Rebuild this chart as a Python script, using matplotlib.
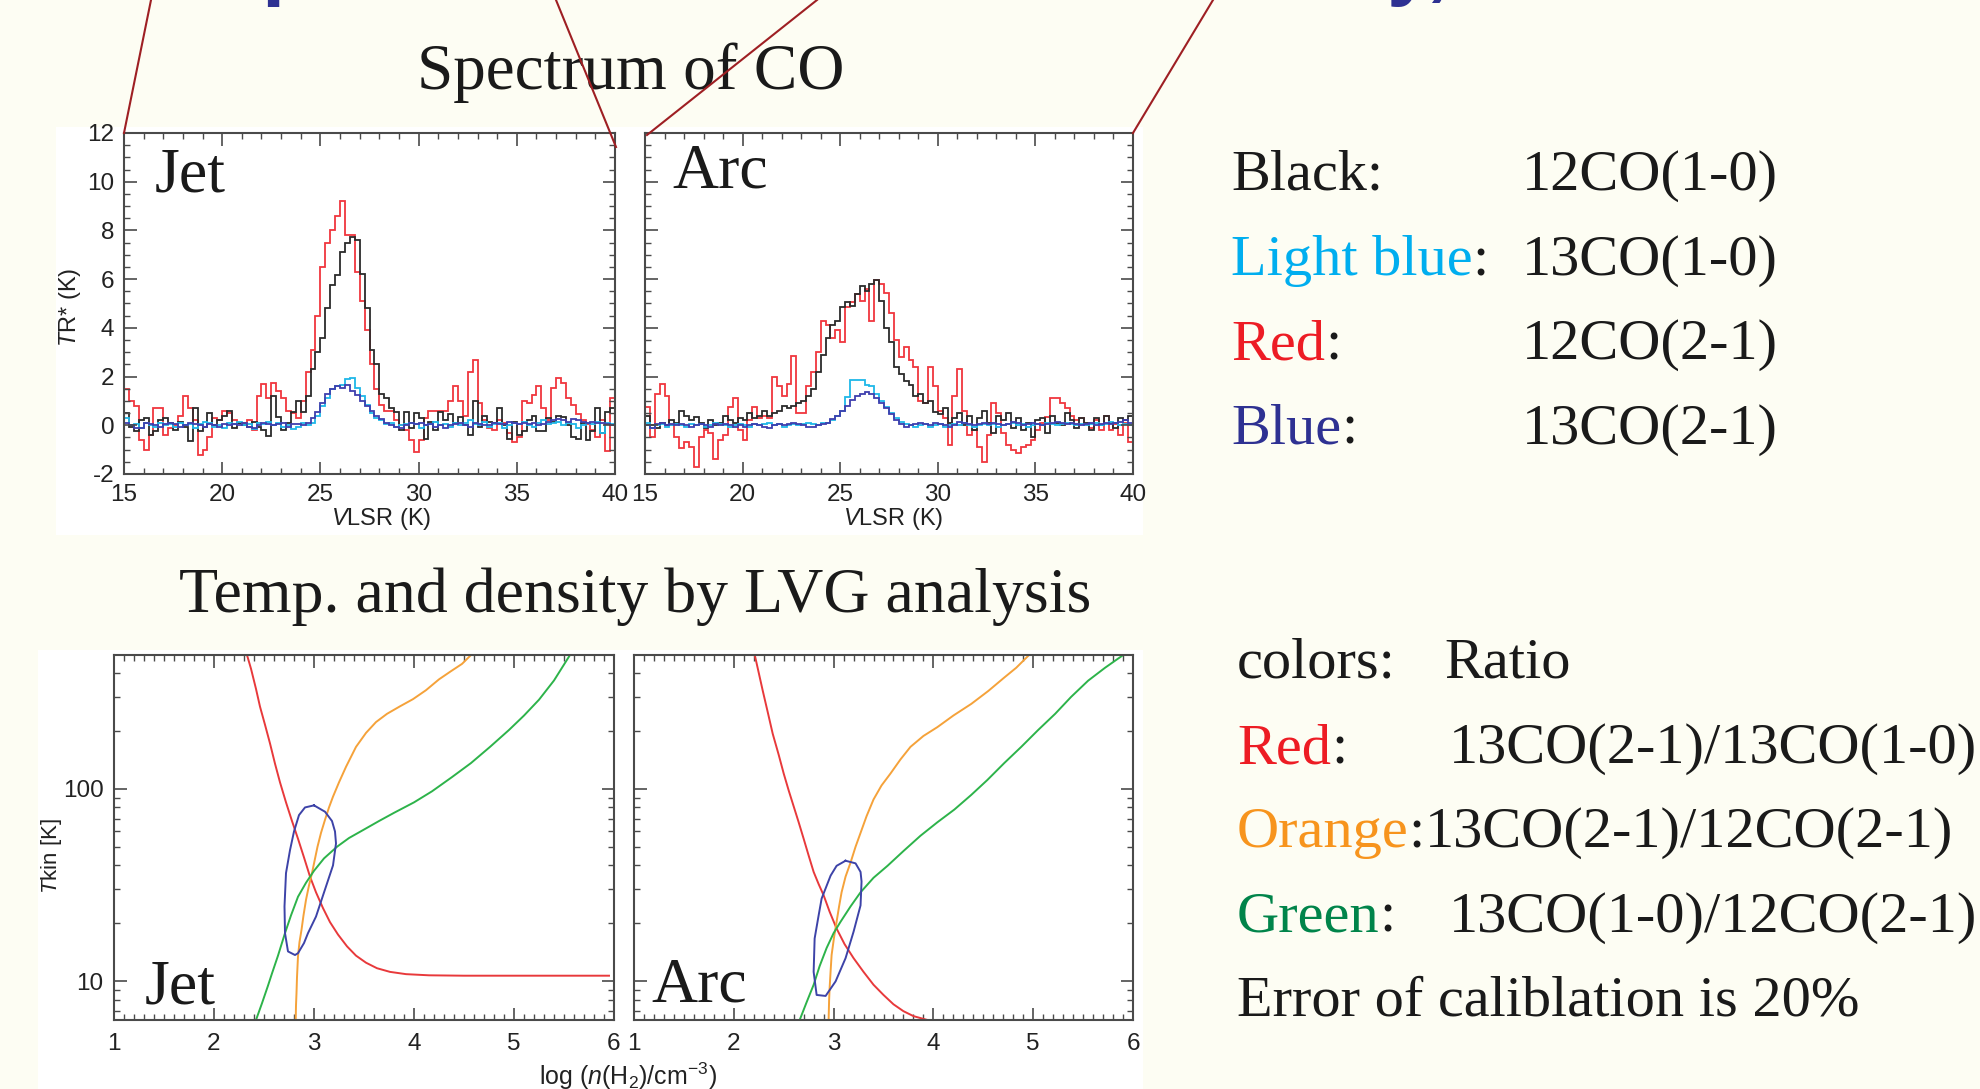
import numpy as np
import matplotlib
matplotlib.use('Agg')
import matplotlib.pyplot as plt
from matplotlib.patches import Rectangle
from matplotlib.lines import Line2D
from matplotlib.ticker import MultipleLocator, FixedLocator, LogLocator, NullFormatter, FuncFormatter

plt.rcParams['font.family'] = 'Liberation Sans'
plt.rcParams['axes.unicode_minus'] = False
plt.rcParams['mathtext.fontset'] = 'custom'
plt.rcParams['mathtext.rm'] = 'Liberation Sans'
plt.rcParams['mathtext.it'] = 'Liberation Sans:italic'
plt.rcParams['mathtext.bf'] = 'Liberation Sans:bold'

W, H = 1980, 1089
BG = '#fdfdf3'
AXC = '#4a4a4a'
TXT = '#1a1a1a'

# ---- spectra: 0.25 km/s channels from 15 to 40 km/s ----
vel_edges = np.linspace(15, 40, 101)

jet_12co21 = [1.5, 1.0, 0.8, -0.6, -1.0, -0.4, 0.7, 0.7, -0.4, -0.1,
              0.0, 0.4, 1.2, 0.7, 0.2, -1.2, -1.0, -0.5, 0.3, 0.2,
              0.6, 0.5, 0.2, 0.1, 0.1, 0.2, -0.2, 1.2, 1.7, 1.1,
              1.75, 1.4, 1.1, 0.6, 0.5, 0.3, 1.0, 2.2, 3.1, 4.5,
              6.5, 7.5, 8.0, 8.6, 9.2, 7.8, 7.8, 6.3, 5.1, 3.9,
              2.5, 1.5, 0.85, 0.6, 0.6, 0.2, 0.0, -0.2, -0.6, -1.1,
              -0.6, 0.3, 0.6, 0.6, 0.6, 0.6, 1.0, 1.6, 1.0, 0.4,
              2.2, 2.7, 0.9, 0.2, -0.1, -0.2, 0.2, 0.1, -0.3, -0.7,
              -0.5, 1.0, 0.9, 1.25, 1.6, 0.7, 0.2, 1.55, 1.95, 1.75,
              1.1, 0.85, 0.45, 0.2, 0.05, -0.2, -0.5, 0.2, -1.05, 1.1]
jet_12co10 = [0.5, -0.05, -0.25, 0.2, 0.3, -0.4, -0.25, 0.2, 0.3, 0.1,
              -0.2, 0.15, -0.05, -0.65, 0.7, -0.25, -0.05, 0.5, 0.0, 0.2,
              0.4, 0.6, -0.1, 0.1, 0.0, -0.05, 0.15, -0.05, -0.2, -0.45,
              1.2, 0.35, -0.2, 0.1, 0.55, 1.0, 0.55, 1.2, 2.3, 3.0,
              3.6, 4.8, 5.75, 6.15, 7.1, 7.5, 7.75, 7.6, 6.2, 4.8,
              3.1, 2.5, 1.3, 1.1, 0.7, 0.55, -0.2, 0.55, -0.1, 0.5,
              0.3, -0.55, 0.15, -0.2, 0.55, 0.2, 0.45, 0.1, 0.35, 0.0,
              -0.4, 1.0, -0.05, 0.4, 0.15, 0.1, 0.7, 0.0, -0.55, 0.15,
              -0.4, -0.25, 0.2, 0.4, -0.25, -0.25, 0.3, 0.15, 0.4, 0.35,
              0.0, -0.5, -0.55, 0.1, -0.6, -0.25, 0.7, -0.3, 0.55, 0.7]
jet_13co10 = [0.3, 0.0, 0.05, -0.1, 0.1, 0.0, -0.05, 0.1, 0.0, 0.05,
              -0.05, 0.1, 0.0, 0.05, -0.1, 0.05, 0.15, 0.1, -0.05, 0.0,
              -0.1, 0.1, 0.05, 0.15, 0.0, 0.05, -0.15, 0.1, 0.05, 0.15,
              0.0, 0.1, -0.05, 0.0, -0.15, -0.05, 0.1, 0.0, 0.1, 0.4,
              0.8, 1.1, 1.5, 1.6, 1.65, 1.9, 1.95, 1.55, 1.2, 0.85,
              0.5, 0.3, 0.2, 0.05, 0.1, -0.05, 0.0, 0.05, 0.1, 0.05,
              -0.1, 0.0, 0.05, 0.15, 0.0, 0.05, -0.05, 0.1, 0.0, 0.1,
              0.2, 0.05, 0.0, 0.15, -0.05, 0.05, 0.1, -0.1, 0.0, 0.1,
              0.05, 0.15, 0.0, -0.05, 0.1, 0.2, 0.05, 0.1, 0.15, 0.0,
              0.1, 0.05, -0.1, 0.0, 0.1, 0.05, 0.15, -0.3, 0.1, 0.05]
jet_13co21 = [0.1, 0.0, -0.1, -0.1, 0.1, 0.05, 0.0, -0.05, 0.05, 0.1,
              0.05, -0.05, 0.0, 0.1, 0.05, 0.0, -0.05, 0.05, 0.0, -0.05,
              0.05, 0.0, 0.05, 0.0, 0.1, -0.05, -0.1, 0.0, 0.1, 0.05,
              0.0, 0.05, 0.1, -0.05, 0.05, 0.05, 0.0, 0.1, 0.3, 0.55,
              0.9, 1.3, 1.5, 1.6, 1.55, 1.65, 1.4, 1.25, 1.0, 0.8,
              0.6, 0.4, 0.25, 0.1, 0.0, -0.05, -0.1, 0.0, 0.1, 0.05,
              0.1, 0.0, 0.05, -0.05, 0.0, -0.1, 0.0, 0.05, 0.1, 0.0,
              -0.05, 0.1, 0.05, 0.0, 0.0, 0.1, 0.05, 0.05, 0.15, 0.1,
              0.05, 0.1, 0.05, 0.1, 0.0, 0.05, 0.15, 0.2, 0.25, 0.2,
              0.15, 0.25, 0.2, 0.15, 0.1, 0.15, 0.1, 0.1, 0.05, 0.0]

arc_12co21 = [0.77, -0.47, 1.3, 1.7, 1.2, 0.0, -0.5, -0.95, -0.67, -0.9,
              -1.7, -0.5, -0.2, -0.3, -1.4, -0.6, -0.4, 0.77, 1.1, -0.2,
              -0.6, 0.2, 0.77, 0.3, 0.4, 0.3, 2.0, 1.6, 1.2, 1.7,
              2.85, 0.5, 0.5, 1.6, 2.2, 3.0, 4.3, 4.1, 3.6, 3.9,
              3.4, 4.85, 5.05, 5.4, 5.1, 5.6, 4.3, 5.95, 5.8, 5.45,
              4.6, 3.5, 2.8, 3.2, 2.7, 2.4, 1.0, 0.9, 2.4, 1.6,
              0.6, 0.3, -0.8, 1.2, 2.3, 0.6, -0.4, -0.2, -0.9, -1.5,
              -0.4, 0.9, 0.5, -0.3, -0.8, -1.0, -1.15, -0.9, -0.8, -0.6,
              -0.2, 0.1, 0.35, 1.1, 1.1, 0.9, 0.7, 0.4, 0.2, 0.3,
              0.0, -0.1, 0.2, -0.2, 0.4, -0.2, 0.05, -0.4, 0.1, -0.7]
arc_12co10 = [0.4, 0.0, -0.1, 0.1, 0.0, 0.2, 0.1, 0.6, 0.4, 0.2,
              0.35, 0.1, -0.1, 0.2, 0.0, 0.1, 0.4, 0.2, 0.1, 0.3,
              0.2, 0.5, 0.3, 0.4, 0.6, 0.4, 0.5, 0.6, 0.8, 0.7,
              0.8, 0.9, 1.0, 1.2, 1.5, 2.2, 2.9, 3.6, 4.1, 4.3,
              4.85, 5.05, 4.9, 5.4, 5.7, 5.5, 5.8, 5.95, 5.1, 4.0,
              3.4, 2.4, 2.1, 1.8, 1.65, 1.2, 1.3, 0.9, 1.0, 0.55,
              0.45, 0.7, 0.1, 0.3, 0.5, 0.0, 0.4, -0.2, 0.3, 0.6,
              0.1, -0.3, 0.4, 0.2, 0.5, -0.1, 0.3, -0.2, 0.1, -0.5,
              0.2, 0.3, -0.3, 0.4, 0.1, 0.0, 0.5, 0.2, -0.1, 0.3,
              0.1, -0.2, 0.3, 0.0, 0.4, 0.1, -0.1, 0.3, 0.2, 0.4]
arc_13co10 = [0.1, -0.1, 0.0, 0.05, -0.05, 0.0, 0.05, 0.0, -0.05, 0.05,
              0.0, 0.05, -0.05, 0.0, 0.1, 0.05, 0.0, -0.05, 0.0, 0.05,
              0.0, -0.05, 0.05, 0.0, 0.05, 0.1, 0.0, 0.05, -0.05, 0.0,
              0.05, 0.0, 0.05, 0.1, 0.05, 0.0, 0.1, 0.1, 0.2, 0.4,
              0.6, 1.15, 1.85, 1.85, 1.85, 1.65, 1.6, 1.3, 1.0, 0.75,
              0.5, 0.3, 0.15, 0.05, 0.0, -0.05, 0.0, 0.05, -0.05, 0.0,
              0.05, -0.05, 0.0, 0.05, 0.0, 0.1, 0.0, -0.05, 0.0, 0.05,
              0.0, 0.05, -0.05, 0.0, 0.05, 0.1, 0.0, 0.05, -0.05, 0.0,
              0.05, 0.0, 0.1, 0.05, 0.0, 0.05, 0.1, 0.05, 0.0, 0.05,
              0.0, 0.05, 0.1, 0.0, 0.05, 0.15, 0.1, 0.0, 0.05, 0.0]
arc_13co21 = [0.0, -0.1, 0.05, 0.1, 0.0, 0.05, 0.0, 0.05, 0.0, -0.05,
              0.0, 0.05, 0.0, -0.05, 0.05, 0.0, 0.05, 0.0, -0.05, 0.0,
              -0.05, 0.0, 0.05, 0.0, -0.05, -0.1, 0.0, 0.05, 0.0, 0.05,
              0.1, 0.05, 0.0, -0.05, -0.05, 0.0, 0.05, 0.1, 0.25, 0.4,
              0.6, 0.8, 1.05, 1.2, 1.3, 1.36, 1.3, 1.1, 0.9, 0.7,
              0.45, 0.2, 0.05, -0.05, 0.0, 0.05, 0.1, 0.05, 0.0, 0.1,
              0.05, 0.0, -0.05, 0.0, 0.15, 0.1, 0.05, 0.0, 0.05, 0.1,
              0.05, 0.1, 0.05, 0.0, 0.05, 0.15, 0.1, 0.0, 0.05, 0.1,
              0.05, 0.0, 0.05, 0.1, 0.15, 0.1, 0.05, 0.1, 0.05, 0.0,
              0.05, 0.1, 0.0, 0.05, 0.1, 0.05, 0.1, 0.15, 0.2, 0.1]

# ---- LVG curves: log n(H2) vs Tkin ----
jet_red_x = [2.33, 2.37, 2.42, 2.46, 2.51, 2.56, 2.61, 2.66, 2.72, 2.78, 2.84, 2.90, 2.96, 3.02,
             3.09, 3.16, 3.24, 3.33, 3.42, 3.52, 3.63, 3.76, 3.92, 4.15, 4.5, 5.0, 5.95]
jet_red_t = [495, 420, 330, 267, 215, 172, 135, 108, 85, 68, 55, 44, 35, 29,
             24, 20.3, 17.5, 15.2, 13.6, 12.5, 11.7, 11.2, 10.9, 10.75, 10.7, 10.7, 10.7]
jet_orange_x = [2.817, 2.82, 2.825, 2.83, 2.84, 2.855, 2.875, 2.895, 2.92, 2.95, 2.98, 3.035, 3.07,
                3.11, 3.15, 3.19, 3.25, 3.32, 3.42, 3.52, 3.62, 3.73, 3.86, 3.99, 4.12, 4.25, 4.37,
                4.48, 4.57]
jet_orange_t = [6.3, 7.5, 8.7, 10.5, 13.5, 16, 18.5, 22, 26.5, 31.5, 36.5, 50, 59,
                69, 80, 91, 108, 130, 165, 195, 222, 245, 268, 292, 325, 370, 408,
                445, 495]
jet_green_x = [2.42, 2.48, 2.54, 2.58, 2.64, 2.71, 2.77, 2.84, 2.92, 3.0, 3.1, 3.23, 3.35, 3.49,
               3.65, 3.80, 4.0, 4.18, 4.38, 4.57, 4.76, 4.95, 5.10, 5.25, 5.40, 5.56]
jet_green_t = [6.3, 7.7, 9.5, 11, 13.6, 17.8, 22, 27.5, 32.5, 37.5, 43.5, 50, 55.5, 61,
               68, 75, 85, 97, 115, 136, 165, 202, 240, 290, 365, 495]
jet_ell_x = [3.00, 3.11, 3.18, 3.21, 3.22, 3.19, 3.11, 3.02, 2.94, 2.90, 2.84, 2.81, 2.74, 2.71,
             2.705, 2.72, 2.76, 2.80, 2.85, 2.91, 3.00]
jet_ell_t = [82, 76, 68, 60, 52, 40, 30, 21.7, 17.8, 15.8, 14.0, 13.7, 14.3, 17.8,
             24.5, 36.5, 48, 60, 73, 80, 82]

arc_red_x = [2.21, 2.25, 2.29, 2.34, 2.39, 2.45, 2.50, 2.55, 2.60, 2.65, 2.70, 2.75, 2.80, 2.85,
             2.90, 2.96, 3.03, 3.11, 3.20, 3.30, 3.40, 3.50, 3.60, 3.70, 3.80, 3.94]
arc_red_t = [495, 400, 323, 250, 193, 150, 120, 98, 81, 67, 55, 45, 37, 32,
             28, 23, 18.8, 15.6, 13.2, 11.2, 9.6, 8.5, 7.6, 7.0, 6.6, 6.3]
arc_orange_x = [2.95, 2.955, 2.96, 2.97, 2.98, 3.005, 3.03, 3.055, 3.08, 3.12, 3.17, 3.22, 3.27,
                3.33, 3.40, 3.48, 3.57, 3.67, 3.77, 3.90, 4.04, 4.20, 4.38, 4.55, 4.71, 4.83, 4.95]
arc_orange_t = [6.3, 8, 9.2, 11.3, 13.7, 17, 20.4, 24.5, 29, 35, 41.4, 50, 59,
                72, 88, 104, 120, 142, 165, 188, 209, 240, 276, 322, 378, 425, 490]
arc_green_x = [2.66, 2.73, 2.80, 2.86, 2.93, 3.00, 3.07, 3.17, 3.27, 3.40, 3.54, 3.70, 3.87,
               4.04, 4.21, 4.38, 4.54, 4.71, 4.88, 5.05, 5.22, 5.38, 5.55, 5.72, 5.89]
arc_green_t = [6.3, 7.8, 9.6, 12, 14.9, 17.8, 20.4, 24.5, 29, 34.5, 39.8, 47.5, 57,
               67, 78, 93, 111, 136, 165, 202, 245, 300, 364, 425, 490]
arc_ell_x = [3.12, 3.22, 3.27, 3.28, 3.27, 3.20, 3.12, 3.02, 2.92, 2.83, 2.80, 2.81, 2.85, 2.88,
             2.97, 3.03, 3.12]
arc_ell_t = [42.3, 41, 37, 33, 24.8, 18.1, 13.2, 10.0, 8.4, 8.5, 11.2, 16.7, 22, 26.9,
             35.4, 39.8, 42.3]


def px(x):
    return x / W


def py(y):
    return 1 - y / H


def add_axes(l, r, t, b):
    return fig.add_axes([px(l), py(b), px(r) - px(l), py(t) - py(b)])


def style_frame(ax):
    for s in ax.spines.values():
        s.set_color(AXC)
        s.set_linewidth(1.5)
    ax.tick_params(which='both', direction='in', top=True, right=True,
                   color=AXC, labelcolor='#222222', labelsize=17.5)
    ax.tick_params(which='major', length=9, width=1.2)
    ax.tick_params(which='minor', length=4.5, width=1.0)


def spectrum_panel(ax, red, black, cyan, blue, show_y):
    ax.stairs(red, vel_edges, baseline=None, color='#f0363e', lw=1.3)
    ax.stairs(black, vel_edges, baseline=None, color='#2b2b2b', lw=1.3)
    ax.stairs(cyan, vel_edges, baseline=None, color='#1fb8e8', lw=1.3)
    ax.stairs(blue, vel_edges, baseline=None, color='#3f3fae', lw=1.3)
    ax.set_xlim(15, 40)
    ax.set_ylim(-2, 12)
    ax.xaxis.set_major_locator(MultipleLocator(5))
    ax.xaxis.set_minor_locator(MultipleLocator(1))
    ax.yaxis.set_major_locator(MultipleLocator(2))
    ax.yaxis.set_minor_locator(MultipleLocator(0.5))
    style_frame(ax)
    ax.tick_params(axis='x', pad=7)
    ax.tick_params(axis='y', pad=7, labelleft=show_y)


def lvg_panel(ax, curves, show_y):
    for x, t, c in curves:
        ax.plot(x, t, color=c, lw=1.4)
    ax.set_yscale('log')
    ax.set_xlim(1, 6)
    ax.set_ylim(6.3, 495)
    ax.xaxis.set_major_locator(MultipleLocator(1))
    ax.xaxis.set_minor_locator(MultipleLocator(0.1))
    ax.yaxis.set_major_locator(FixedLocator([10, 100]))
    ax.yaxis.set_major_formatter(FuncFormatter(lambda v, p: '%d' % v))
    ax.yaxis.set_minor_locator(LogLocator(base=10, subs=np.arange(2, 10)))
    ax.yaxis.set_minor_formatter(NullFormatter())
    style_frame(ax)
    ax.tick_params(axis='x', pad=9)
    ax.tick_params(axis='y', pad=7.5, labelleft=show_y)


fig = plt.figure(figsize=(W / 100, H / 100), dpi=100, facecolor=BG)

# white image backgrounds behind the two figures
fig.add_artist(Rectangle((px(56), py(535)), px(1143) - px(56), py(127) - py(535),
                         transform=fig.transFigure, facecolor='white', edgecolor='none', zorder=-1))
fig.add_artist(Rectangle((px(38), py(1089)), px(1143) - px(38), py(650) - py(1089),
                         transform=fig.transFigure, facecolor='white', edgecolor='none', zorder=-1))

ax1 = add_axes(124, 615, 133, 474)
ax2 = add_axes(645, 1133, 133, 474)
ax3 = add_axes(114, 614, 655, 1020)
ax4 = add_axes(634, 1133, 655, 1020)

spectrum_panel(ax1, jet_12co21, jet_12co10, jet_13co10, jet_13co21, True)
spectrum_panel(ax2, arc_12co21, arc_12co10, arc_13co10, arc_13co21, False)

C_R, C_O, C_G, C_B = '#e8393b', '#f5a23a', '#2db34a', '#3d43a8'
lvg_panel(ax3, [(jet_red_x, jet_red_t, C_R), (jet_orange_x, jet_orange_t, C_O),
                (jet_green_x, jet_green_t, C_G), (jet_ell_x, jet_ell_t, C_B)], True)
lvg_panel(ax4, [(arc_red_x, arc_red_t, C_R), (arc_orange_x, arc_orange_t, C_O),
                (arc_green_x, arc_green_t, C_G), (arc_ell_x, arc_ell_t, C_B)], False)

# axis labels
fig.text(px(70), py(307), r'$T$R* (K)', rotation=90, ha='center', va='center', fontsize=17, color='#222222')
fig.text(px(381), py(519), r'$V$LSR (K)', ha='center', va='center', fontsize=17, color='#222222')
fig.text(px(893), py(519), r'$V$LSR (K)', ha='center', va='center', fontsize=17, color='#222222')
fig.text(px(51), py(856), r'$T$kin [K]', rotation=90, ha='center', va='center', fontsize=16, color='#222222')
fig.text(px(628), py(1076), r'log ($n$(H$_2$)/cm$^{-3}$)', ha='center', va='center', fontsize=18, color='#222222')

serif = dict(family='Liberation Serif', va='baseline', color=TXT)

# panel names
fig.text(px(155), py(191), 'Jet', fontsize=46, **serif)
fig.text(px(672), py(188), 'Arc', fontsize=46, **serif)
fig.text(px(145), py(1003), 'Jet', fontsize=46, **serif)
fig.text(px(651), py(1002), 'Arc', fontsize=46, **serif)

# section titles
fig.text(px(631), py(89), 'Spectrum of CO', ha='center', fontsize=47, **serif)
fig.text(px(635), py(612), 'Temp. and density by LVG analysis', ha='center', fontsize=46, **serif)

# connector lines from the slide above
for x0, y0, x1, y1 in [(151, 0, 124, 133), (556, 0, 616, 147), (817, 0, 647, 135), (1213, 0, 1133, 133)]:
    fig.add_artist(Line2D([px(x0), px(x1)], [py(y0), py(y1)], transform=fig.transFigure,
                          color='#9e1f23', lw=1.5, zorder=5))

# bottom of the slide title, cut off at the top edge
fig.text(px(261), py(-10), 'p', family='Liberation Sans', fontweight='bold', fontsize=60,
         color='#2e3192', va='baseline')
fig.text(px(1386), py(-10), 'y,', family='Liberation Sans', fontweight='bold', fontsize=60,
         color='#2e3192', va='baseline')

# legend text on the right
renderer = fig.canvas.get_renderer()


def label_colon(x, y, word, color, size=42):
    t = fig.text(px(x), py(y), word, fontsize=size, **dict(serif, color=color))
    bb = t.get_window_extent(renderer)
    c = fig.text(bb.x1 / W, py(y), ':', fontsize=size, **serif)
    return c.get_window_extent(renderer).x1


fig.text(px(1231), py(190), 'Black:', fontsize=42, **serif)
fig.text(px(1522), py(190), '12CO(1-0)', fontsize=42, **serif)
label_colon(1231, 275, 'Light blue', '#00aeef')
fig.text(px(1522), py(275), '13CO(1-0)', fontsize=42, **serif)
label_colon(1231, 359, 'Red', '#ed1c24')
fig.text(px(1522), py(359), '12CO(2-1)', fontsize=42, **serif)
label_colon(1231, 444, 'Blue', '#2e3192')
fig.text(px(1522), py(444), '13CO(2-1)', fontsize=42, **serif)

fig.text(px(1237), py(678), 'colors:', fontsize=42, **serif)
fig.text(px(1444), py(678), 'Ratio', fontsize=42, **serif)
label_colon(1237, 763, 'Red', '#ed1c24')
fig.text(px(1449), py(763), '13CO(2-1)/13CO(1-0)', fontsize=42, **serif)
xo = label_colon(1237, 847, 'Orange', '#f7941d')
fig.text(xo / W, py(847), '13CO(2-1)/12CO(2-1)', fontsize=42, **serif)
label_colon(1237, 932, 'Green', '#00844a')
fig.text(px(1449), py(932), '13CO(1-0)/12CO(2-1)', fontsize=42, **serif)
fig.text(px(1237), py(1015), 'Error of caliblation is 20%', fontsize=42, **serif)

fig.savefig('out.png', dpi=100, facecolor=BG)
